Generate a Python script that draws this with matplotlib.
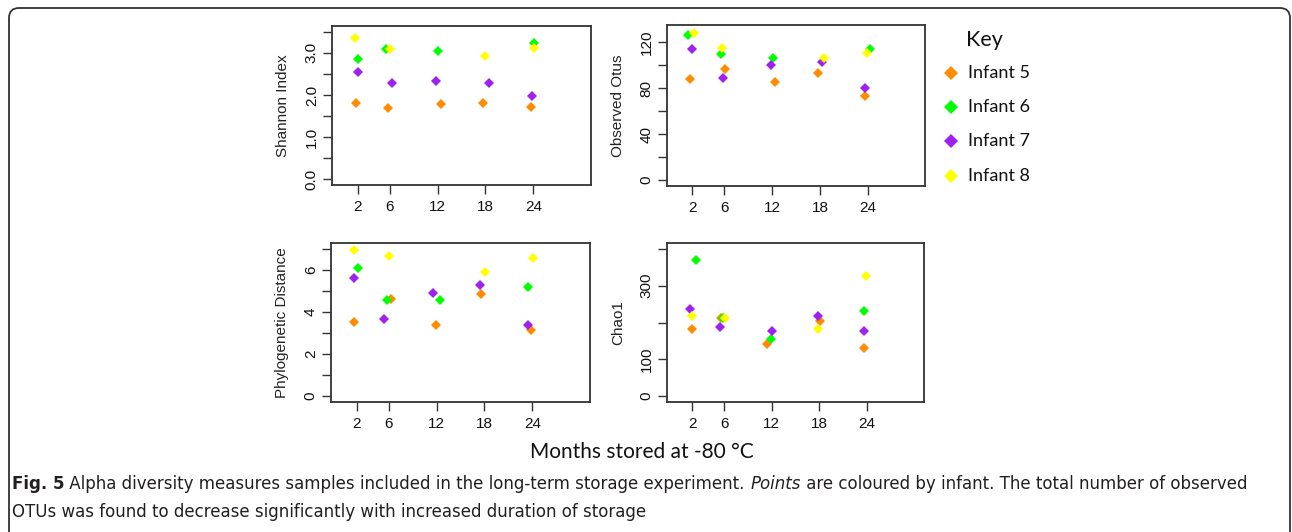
import matplotlib
matplotlib.use('Agg')
import matplotlib.pyplot as plt
from matplotlib.patches import FancyBboxPatch
from matplotlib.lines import Line2D
from matplotlib.transforms import IdentityTransform

W, H = 1292, 532

# Infants and colours
infants = ['Infant 5', 'Infant 6', 'Infant 7', 'Infant 8']
colors = ['#FF8C00', '#00FF00', '#A020F0', '#FFFF00']
months = [2, 6, 12, 18, 24]

# Shannon index: (month jittered, value) per infant, None = missing
shannon_x = {
    'Infant 5': [1.85, 5.75, 12.45, 17.7, 23.7],
    'Infant 6': [2.1, 5.6, 12.1, None, 24.1],
    'Infant 7': [2.0, 6.25, 11.8, 18.5, 23.8],
    'Infant 8': [1.7, 6.0, None, 17.9, 24.1],
}
shannon_y = {
    'Infant 5': [1.81, 1.69, 1.78, 1.82, 1.71],
    'Infant 6': [2.86, 3.10, 3.04, None, 3.23],
    'Infant 7': [2.54, 2.28, 2.33, 2.28, 1.98],
    'Infant 8': [3.36, 3.10, None, 2.93, 3.12],
}

# Observed OTUs
otus_x = {
    'Infant 5': [1.66, 6.1, 12.3, 17.7, 23.7],
    'Infant 6': [1.41, 5.56, 12.1, None, 24.3],
    'Infant 7': [2.0, 5.86, 11.8, 18.3, 23.7],
    'Infant 8': [2.2, 5.69, None, 18.55, 23.9],
}
otus_y = {
    'Infant 5': [87.8, 96.6, 85.7, 93.4, 73.7],
    'Infant 6': [126.7, 109.7, 106.5, None, 114.4],
    'Infant 7': [114.7, 89.0, 100.7, 102.7, 80.5],
    'Infant 8': [127.9, 115.0, None, 106.8, 110.6],
}

# Phylogenetic distance
pd_x = {
    'Infant 5': [1.7, 6.25, 11.9, 17.6, 23.8],
    'Infant 6': [2.13, 5.83, 12.4, None, 23.5],
    'Infant 7': [1.66, 5.45, 11.6, 17.5, 23.45],
    'Infant 8': [1.7, 6.04, None, 18.1, 24.1],
}
pd_y = {
    'Infant 5': [3.51, 4.63, 3.39, 4.86, 3.16],
    'Infant 6': [6.08, 4.55, 4.56, None, 5.19],
    'Infant 7': [5.61, 3.68, 4.91, 5.27, 3.39],
    'Infant 8': [6.95, 6.65, None, 5.89, 6.58],
}

# Chao1
chao_x = {
    'Infant 5': [1.9, 5.55, 11.45, 18.1, 23.6],
    'Infant 6': [2.4, 5.8, 11.9, None, 23.6],
    'Infant 7': [1.7, 5.43, 12.05, 17.8, 23.6],
    'Infant 8': [1.9, 6.05, None, 17.8, 23.85],
}
chao_y = {
    'Infant 5': [181, 211, 141, 204.5, 132],
    'Infant 6': [371, 211, 155, None, 232],
    'Infant 7': [237, 188, 178, 218, 178],
    'Infant 8': [217, 211, None, 181, 325],
}

panels = [
    # (x, y, ylabel, ylim, ticks, tick labels, pixel box l, t, r, b)
    (shannon_x, shannon_y, 'Shannon Index', (-0.14, 3.64),
     [0, 0.5, 1, 1.5, 2, 2.5, 3, 3.5], ['0.0', '', '1.0', '', '2.0', '', '3.0', ''],
     (332, 26, 591, 185)),
    (otus_x, otus_y, 'Observed Otus', (-5.2, 135.2),
     [0, 20, 40, 60, 80, 100, 120], ['0', '', '40', '', '80', '', '120'],
     (667, 25, 925, 186)),
    (pd_x, pd_y, 'Phylogenetic Distance', (-0.28, 7.28),
     [0, 1, 2, 3, 4, 5, 6, 7], ['0', '', '2', '', '4', '', '6', ''],
     (331, 243, 590, 402)),
    (chao_x, chao_y, 'Chao1', (-16, 416),
     [0, 100, 200, 300, 400], ['0', '100', '', '300', ''],
     (667, 243, 924, 402)),
]

plt.rcParams['font.family'] = ['Liberation Sans', 'DejaVu Sans']
fig = plt.figure(figsize=(W / 100, H / 100), dpi=100)


def fx(px):
    return px / W


def fy(py):
    return 1 - py / H


for xs, ys, ylabel, ylim, yt, ytl, box in panels:
    l, t, r, b = box
    ax = fig.add_axes([fx(l), fy(b), fx(r - l), (b - t) / H])
    for name, c in zip(infants, colors):
        px = [a for a, v in zip(xs[name], ys[name]) if a is not None and v is not None]
        py = [v for a, v in zip(xs[name], ys[name]) if a is not None and v is not None]
        ax.plot(px, py, 'D', color=c, markersize=5.2, markeredgewidth=0, linestyle='none')
    ax.set_xlim(-1.2, 31.2)
    ax.set_ylim(*ylim)
    ax.set_xticks(months)
    ax.set_xticklabels([str(m) for m in months])
    ax.set_yticks(yt)
    ax.set_yticklabels(ytl, rotation=90, va='center')
    ax.tick_params(axis='both', length=6.5, width=1.0, color='#333333',
                   labelsize=11, labelcolor='#111111')
    ax.tick_params(axis='x', pad=4)
    ax.tick_params(axis='y', pad=3)
    for s in ax.spines.values():
        s.set_linewidth(1.3)
        s.set_color('#333333')
    fig.text(fx(l - 49), fy((t + b) / 2), ylabel, rotation=90, ha='center', va='center',
             fontsize=11, color='#222222')

# Key
fig.text(fx(966), fy(40), 'Key', fontsize=15.5, family=['Lato', 'DejaVu Sans'],
         ha='left', va='center', color='#111111')
key_y = [73, 107, 141, 176]
for name, c, ky in zip(infants, colors, key_y):
    fig.add_artist(Line2D([fx(951)], [fy(ky)], marker='D', color=c, markersize=7,
                          markeredgewidth=0, transform=fig.transFigure))
    fig.text(fx(968), fy(ky), name, fontsize=13, family=['Lato', 'DejaVu Sans'],
             ha='left', va='center', color='#111111')

# Shared x label
fig.text(fx(642), fy(452), 'Months stored at -80 °C', fontsize=15,
         family=['Lato', 'DejaVu Sans'], ha='center', va='center', color='#111111')

# Caption, written piece by piece so that styles can change inside a line
cap_font = ['DejaVu Sans']
renderer = fig.canvas.get_renderer()


def write_line(pieces, x0, y0):
    x = x0
    for txt, weight, style in pieces:
        t = fig.text(fx(x), fy(y0), txt, fontsize=12, family=cap_font, fontweight=weight,
                     fontstyle=style, ha='left', va='center', color='#231F20')
        x += t.get_window_extent(renderer).width


write_line([('Fig. 5', 'bold', 'normal'),
            (' Alpha diversity measures samples included in the long-term storage experiment. ',
             'normal', 'normal'),
            ('Points', 'normal', 'italic'),
            (' are coloured by infant. The total number of observed', 'normal', 'normal')],
           12, 484)
write_line([('OTUs was found to decrease significantly with increased duration of storage',
             'normal', 'normal')], 12, 512)

# Rounded frame around the figure (pixel coordinates)
frame = FancyBboxPatch((9, -30), 1281, H - 8 + 30,
                       boxstyle='round,pad=0,rounding_size=10',
                       transform=IdentityTransform(), fill=False, linewidth=1.3,
                       edgecolor='#333333')
fig.add_artist(frame)

fig.savefig('out.png', dpi=100)
